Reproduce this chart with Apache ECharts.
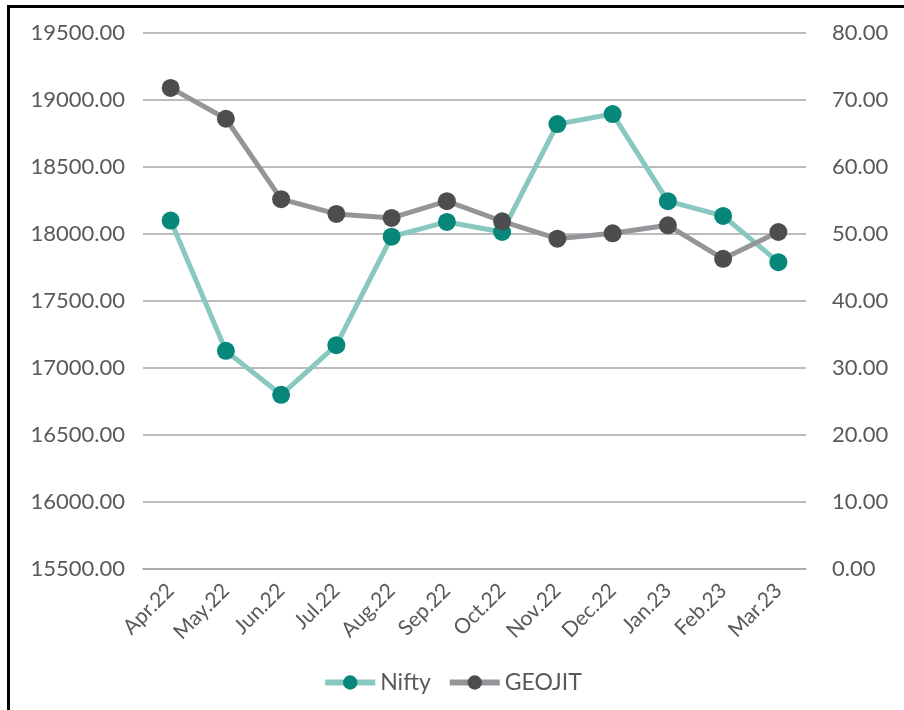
<!DOCTYPE html>
<html>
<head>
  <meta charset="utf-8">
  <title>Nifty vs GEOJIT</title>
  <script src="https://cdn.jsdelivr.net/npm/echarts@6/dist/echarts.min.js"></script>
  <style>
    body { margin: 0; overflow: hidden; background: #fff; }
    #frame { position: absolute; left: 7px; top: 5px; width: 1000px; height: 1000px; border: 3px solid #000; pointer-events: none; }
  </style>
</head>
<body>
<div id="main" style="width: 904px;height:710px;"></div>
<div id="frame"></div>
<script type="text/javascript">
  var months = ['Apr.22', 'May.22', 'Jun.22', 'Jul.22', 'Aug.22', 'Sep.22', 'Oct.22', 'Nov.22', 'Dec.22', 'Jan.23', 'Feb.23', 'Mar.23'];
  var nifty = [18100, 17128, 16800, 17170, 17980, 18090, 18015, 18820, 18895, 18245, 18135, 17790];
  var geojit = [71.8, 67.2, 55.2, 53.0, 52.4, 54.9, 51.9, 49.3, 50.1, 51.3, 46.3, 50.3];

  var myChart = echarts.init(document.getElementById('main'));
  var labelFont = 'Lato';

  var option = {
    animation: false,
    grid: { left: 143, right: 98, top: 33, bottom: 141 },
    legend: {
      bottom: 11,
      left: 'center',
      itemWidth: 50,
      itemHeight: 18,
      itemGap: 16,
      lineStyle: { width: 6 },
      textStyle: { fontFamily: labelFont, fontSize: 23, color: '#595959' },
      data: ['Nifty', 'GEOJIT']
    },
    xAxis: {
      type: 'category',
      data: months,
      axisLine: { lineStyle: { color: '#A6A6A6', width: 1.5 } },
      axisTick: { alignWithLabel: false, length: 6, lineStyle: { color: '#A6A6A6' } },
      axisLabel: { rotate: 45, fontFamily: labelFont, fontSize: 21, color: '#595959', margin: 18, interval: 0 }
    },
    yAxis: [{
      type: 'value',
      min: 15500,
      max: 19500,
      interval: 500,
      axisLine: { show: false },
      axisTick: { show: false },
      splitLine: { lineStyle: { color: '#A6A6A6', width: 1.5 } },
      axisLabel: { fontFamily: labelFont, fontSize: 22, color: '#595959', margin: 18, formatter: function (v) { return v.toFixed(2); } }
    }, {
      type: 'value',
      min: 0,
      max: 80,
      interval: 10,
      axisLine: { show: false },
      axisTick: { show: false },
      splitLine: { show: false },
      axisLabel: { fontFamily: labelFont, fontSize: 22, color: '#595959', margin: 26, formatter: function (v) { return v.toFixed(2); } }
    }],
    series: [{
      name: 'Nifty',
      type: 'line',
      yAxisIndex: 0,
      data: nifty,
      symbol: 'circle',
      symbolSize: 18,
      lineStyle: { color: '#88C8BE', width: 5 },
      itemStyle: { color: '#06877A' }
    }, {
      name: 'GEOJIT',
      type: 'line',
      yAxisIndex: 1,
      data: geojit,
      symbol: 'circle',
      symbolSize: 18,
      lineStyle: { color: '#939598', width: 5 },
      itemStyle: { color: '#4D4D4F' }
    }]
  };

  myChart.setOption(option);
</script>
</body>
</html>
